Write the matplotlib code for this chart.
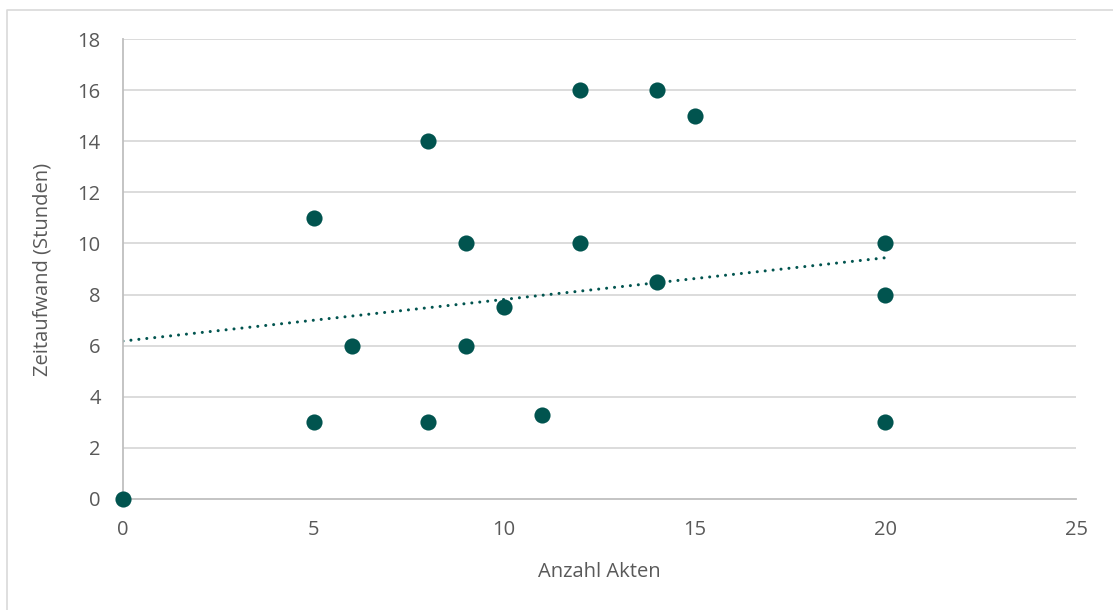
import matplotlib
matplotlib.use('Agg')
import matplotlib.pyplot as plt
from matplotlib.lines import Line2D

# Anzahl Akten vs. Zeitaufwand
akten = [0, 5, 5, 6, 8, 8, 9, 9, 10, 11, 12, 12, 14, 14, 15, 20, 20, 20]
stunden = [0, 11, 3, 6, 14, 3, 10, 6, 7.5, 3.3, 16, 10, 16, 8.5, 15, 10, 8, 3]

# linear trend line, end points
trend_x = [0, 20]
trend_y = [6.18, 9.44]

x_ticks = [0, 5, 10, 15, 20, 25]
y_ticks = [0, 2, 4, 6, 8, 10, 12, 14, 16, 18]

green = '#01544f'
text_color = '#595959'

plt.rcParams['font.family'] = ['Open Sans', 'DejaVu Sans']

fig = plt.figure(figsize=(11.13, 6.10), dpi=100)
ax = fig.add_axes([123 / 1113, 1 - 499 / 610, (1076 - 123) / 1113, (499 - 39) / 610])

# chart border (top and left edges visible)
fig.add_artist(Line2D([7 / 1113, 7 / 1113, 1.0], [0.0, 1 - 10 / 610, 1 - 10 / 610],
                      transform=fig.transFigure, color='#d9d9d9', lw=1.2))

for y in y_ticks[1:]:
    ax.axhline(y, color='#d9d9d9', lw=1.3, zorder=0)

ax.plot(trend_x, trend_y, color=green, lw=2.2, linestyle=(0, (0.01, 2.6)),
        dash_capstyle='round', zorder=2)
ax.scatter(akten, stunden, s=135, color=green, zorder=3, linewidths=0, clip_on=False)

ax.set_xlim(0, 25)
ax.set_ylim(0, 18)
ax.set_xticks(x_ticks)
ax.set_yticks(y_ticks)

for side in ['top', 'right']:
    ax.spines[side].set_visible(False)
for side in ['left', 'bottom']:
    ax.spines[side].set_color('#bfbfbf')
    ax.spines[side].set_linewidth(1.3)

ax.tick_params(axis='both', length=0, labelsize=14.5, labelcolor=text_color)
ax.tick_params(axis='x', pad=15)
ax.tick_params(axis='y', pad=16)

ax.set_xlabel('Anzahl Akten', fontsize=14.5, color=text_color, labelpad=16)
ax.set_ylabel('Zeitaufwand (Stunden)', fontsize=14.5, color=text_color, labelpad=18)

fig.savefig('out.png', dpi=100, facecolor='white')
